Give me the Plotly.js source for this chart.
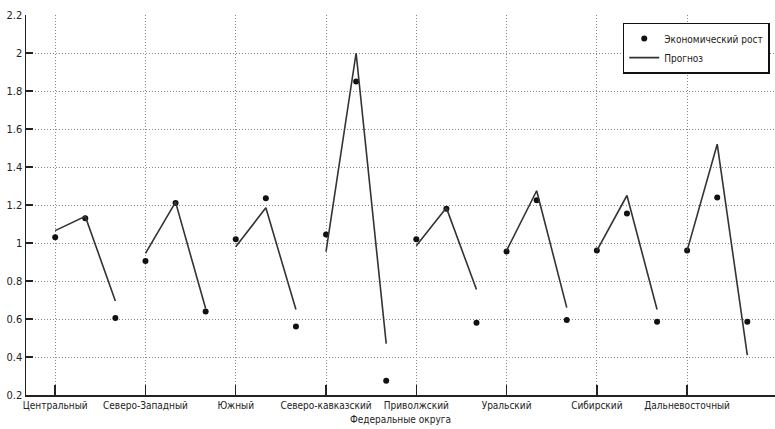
<!DOCTYPE html>
<html>
<head>
<meta charset="utf-8">
<script src="https://cdn.plot.ly/plotly-3.0.1.min.js"></script>
<style>html,body{margin:0;padding:0;background:#fff;}#chart{width:775px;height:429px;}</style>
</head>
<body>
<div id="chart"></div>
<script>
var categories = ['Центральный', 'Северо-Западный', 'Южный', 'Северо-кавказский', 'Приволжский', 'Уральский', 'Сибирский', 'Дальневосточный'];
var growth = [
  [1.03, 1.13, 0.605],
  [0.905, 1.21, 0.64],
  [1.02, 1.235, 0.56],
  [1.045, 1.85, 0.275],
  [1.02, 1.18, 0.58],
  [0.955, 1.225, 0.595],
  [0.96, 1.155, 0.585],
  [0.96, 1.24, 0.585]
];
var forecast = [
  [1.065, 1.14, 0.695],
  [0.945, 1.215, 0.655],
  [0.98, 1.185, 0.65],
  [0.955, 2.0, 0.47],
  [0.985, 1.185, 0.755],
  [0.96, 1.275, 0.66],
  [0.96, 1.25, 0.65],
  [0.96, 1.52, 0.41]
];
var yTicks = [0.2, 0.4, 0.6, 0.8, 1, 1.2, 1.4, 1.6, 1.8, 2, 2.2];
var yTickText = ['0.2', '0.4', '0.6', '0.8', '1', '1.2', '1.4', '1.6', '1.8', '2', '2.2'];

var dotX = [], dotY = [], lineX = [], lineY = [], tickVals = [];
for (var i = 0; i < categories.length; i++) {
  tickVals.push(i * 3);
  for (var j = 0; j < 3; j++) {
    dotX.push(i * 3 + j); dotY.push(growth[i][j]);
    lineX.push(i * 3 + j); lineY.push(forecast[i][j]);
  }
  lineX.push(null); lineY.push(null);
}

var font = 'DejaVu Sans Condensed, Liberation Sans Narrow, sans-serif';

var traces = [
  {x: dotX, y: dotY, mode: 'markers', type: 'scatter', name: 'Экономический рост',
   marker: {color: '#111', size: 6}},
  {x: lineX, y: lineY, mode: 'lines', type: 'scatter', name: 'Прогноз', connectgaps: false,
   line: {color: '#333', width: 1.6}}
];

var layout = {
  width: 775, height: 429,
  margin: {l: 26, r: 0, t: 15, b: 34},
  paper_bgcolor: '#fff', plot_bgcolor: '#fff',
  font: {family: font, size: 10, color: '#222', stretch: 'condensed'},
  showlegend: true,
  legend: {x: 0.993, y: 0.98, xanchor: 'right', yanchor: 'top',
           bordercolor: '#111', borderwidth: 1.5, bgcolor: '#fff',
           font: {family: font, size: 10, color: '#222', stretch: 'condensed'},
           tracegroupgap: 0, itemwidth: 30},
  xaxis: {
    range: [-0.97, 23.92], tickvals: tickVals, ticktext: categories,
    showgrid: true, gridcolor: '#888', griddash: '1px,2px', gridwidth: 1,
    zeroline: false, showline: true, linecolor: '#222', linewidth: 1.5,
    ticks: 'inside', ticklen: 10, tickcolor: '#222', tickwidth: 1.5,
    tickfont: {family: font, size: 10, color: '#222', stretch: 'condensed'},
    title: {text: 'Федеральные округа', font: {family: font, size: 10, color: '#222', stretch: 'condensed'}, standoff: 6}
  },
  yaxis: {
    range: [0.2, 2.2], tickvals: yTicks, ticktext: yTickText,
    showgrid: true, gridcolor: '#888', griddash: '1px,2px', gridwidth: 1,
    zeroline: false, showline: true, linecolor: '#222', linewidth: 1.5,
    ticks: 'inside', ticklen: 7, tickcolor: '#222', tickwidth: 1.5,
    tickfont: {family: font, size: 11, color: '#222', stretch: 'condensed'}
  }
};

Plotly.newPlot('chart', traces, layout, {displayModeBar: false, staticPlot: true});
</script>
</body>
</html>
